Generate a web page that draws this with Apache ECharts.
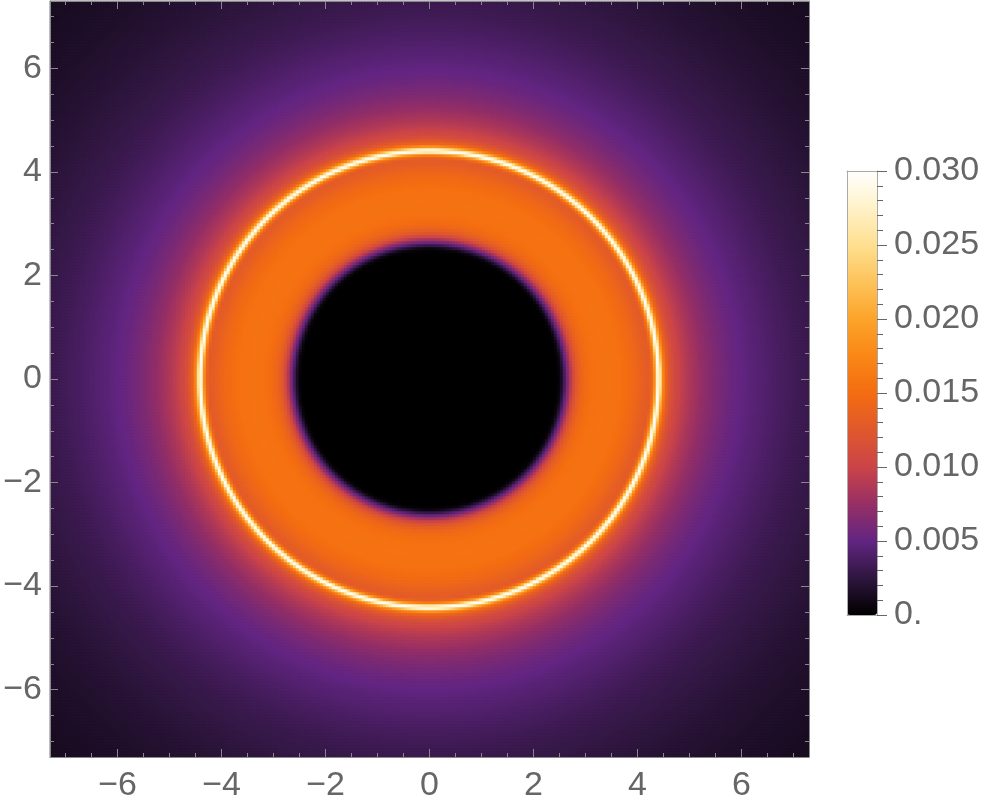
<!DOCTYPE html>
<html>
<head>
<meta charset="utf-8">
<script src="https://cdn.jsdelivr.net/npm/echarts@6/dist/echarts.min.js"></script>
<style>
  html, body { margin: 0; background: #fff; }
  #main { width: 997px; height: 812px; }
</style>
</head>
<body>
<div id="main"></div>
<script>
// radial brightness profile (radius in plot units -> value)
const radius = [0, 2.45, 2.52, 2.58, 2.64, 2.70, 2.76, 2.84, 2.95, 3.10,
  3.40, 3.70, 3.95, 4.15, 4.25, 4.31, 4.35, 4.38, 4.40, 4.43,
  4.46, 4.50, 4.55, 4.63, 4.72, 4.85, 5.00, 5.25, 5.50, 5.80,
  6.20, 6.60, 7.00, 7.50, 8.00, 8.50, 9.00, 9.50, 10.0, 10.6];
const intensity = [0, 0, 0.0006, 0.0028, 0.0055, 0.0082, 0.0105, 0.0128, 0.0143, 0.0152,
  0.0156, 0.0153, 0.0144, 0.0132, 0.0128, 0.0155, 0.0205, 0.0270, 0.0300, 0.0285,
  0.0225, 0.0172, 0.0140, 0.0120, 0.0107, 0.0096, 0.0086, 0.0073, 0.0063, 0.0054,
  0.0046, 0.0040, 0.0034, 0.0029, 0.0025, 0.0021, 0.0018, 0.0016, 0.0014, 0.0012];

const majorTicks = [-6, -4, -2, 0, 2, 4, 6];
const minorTicks = [-7, -6.5, -6, -5.5, -5, -4.5, -4, -3.5, -3, -2.5, -2, -1.5, -1, -0.5,
  0, 0.5, 1, 1.5, 2, 2.5, 3, 3.5, 4, 4.5, 5, 5.5, 6, 6.5, 7];
// sunset-like colour scale, evenly spaced from 0 to 0.03
const sunset = ['#000000', '#2e163e', '#622582', '#972f64', '#cb4448', '#e0582c', '#f46d11',
  '#fa8716', '#fca42a', '#fdc35a', '#fedf90', '#fff2c8', '#ffffff'];

const xMin = -7.3, xMax = 7.3, yMin = -7.3, yMax = 7.3;
const nx = 253, ny = 252;   // 3px cells

function valueAt(r) {
  for (let k = 0; k < radius.length - 1; k++) {
    if (r < radius[k + 1]) {
      const t = (r - radius[k]) / (radius[k + 1] - radius[k]);
      return intensity[k] + t * (intensity[k + 1] - intensity[k]);
    }
  }
  return intensity[intensity.length - 1];
}

const xCats = [], yCats = [], cells = [];
for (let i = 0; i < nx; i++) xCats.push(i);
for (let j = 0; j < ny; j++) yCats.push(j);
for (let j = 0; j < ny; j++) {
  const y = yMin + (j + 0.5) * (yMax - yMin) / ny;
  for (let i = 0; i < nx; i++) {
    const x = xMin + (i + 0.5) * (xMax - xMin) / nx;
    cells.push([i, j, +valueAt(Math.sqrt(x * x + y * y)).toFixed(5)]);
  }
}

const font = 'Liberation Sans, Arial, sans-serif';
const frameColor = '#888';
function fmt(v) { return v < 0 ? '\u2212' + (-v) : '' + v; }

function frameAxis(grid, position, ticks, len, withLine, withLabel, lo, hi) {
  return {
    type: 'value', gridIndex: grid, position: position, min: lo, max: hi, z: 5,
    axisLine: { show: withLine, onZero: false, lineStyle: { color: frameColor, width: 1 } },
    axisTick: { show: true, inside: true, length: len, customValues: ticks,
      lineStyle: { color: frameColor, width: 1 } },
    axisLabel: { show: withLabel, customValues: ticks, formatter: fmt, color: '#666',
      fontSize: 34, fontFamily: font, margin: position === 'bottom' ? 12 : 8 },
    splitLine: { show: false }
  };
}
function hiddenCat(grid, cats) {
  return { type: 'category', gridIndex: grid, data: cats, show: false,
    axisLine: { show: false }, axisTick: { show: false }, axisLabel: { show: false },
    splitLine: { show: false }, splitArea: { show: false } };
}
function barEdge(position, lo, hi) {
  return { type: 'value', gridIndex: 3, position: position, min: lo, max: hi, z: 10,
    axisLine: { show: true, onZero: false, lineStyle: { color: '#aaa' } },
    axisTick: { show: false }, axisLabel: { show: false }, splitLine: { show: false } };
}
const plotBox = { left: 50, top: 1, width: 759, height: 756 };
const barBox = { left: 847, top: 171, width: 30, height: 444 };

const myChart = echarts.init(document.getElementById('main'));
const option = {
  animation: false,
  backgroundColor: '#fff',
  grid: [
    Object.assign({}, plotBox),
    Object.assign({}, plotBox),
    Object.assign({}, plotBox),
    Object.assign({}, barBox)
  ],
  xAxis: [
    hiddenCat(0, xCats),
    frameAxis(1, 'bottom', majorTicks, 8, true, true, xMin, xMax),
    frameAxis(1, 'top', majorTicks, 8, true, false, xMin, xMax),
    frameAxis(2, 'bottom', minorTicks, 4, false, false, xMin, xMax),
    frameAxis(2, 'top', minorTicks, 4, false, false, xMin, xMax),
    barEdge('bottom', 0, 1),
    barEdge('top', 0, 1)
  ],
  yAxis: [
    hiddenCat(0, yCats),
    frameAxis(1, 'left', majorTicks, 8, true, true, yMin, yMax),
    frameAxis(1, 'right', majorTicks, 8, true, false, yMin, yMax),
    frameAxis(2, 'left', minorTicks, 4, false, false, yMin, yMax),
    frameAxis(2, 'right', minorTicks, 4, false, false, yMin, yMax),
    { type: 'value', gridIndex: 3, position: 'right', min: 0, max: 0.03, interval: 0.005, z: 10,
      axisLine: { show: true, onZero: false, lineStyle: { color: '#aaa' } },
      axisTick: { show: true, inside: false, length: 10, lineStyle: { color: '#666' } },
      minorTick: { show: true, splitNumber: 5, length: 6, lineStyle: { color: '#666' } },
      axisLabel: { color: '#666', fontSize: 34, fontFamily: font, margin: 17,
        formatter: function (v) { return v === 0 ? '0.' : v.toFixed(3); } },
      splitLine: { show: false } },
    barEdge('left', 0, 0.03)
  ],
  visualMap: {
    type: 'continuous', min: 0, max: 0.03, calculable: false, seriesIndex: 0,
    left: barBox.left, top: barBox.top, itemWidth: barBox.width, itemHeight: barBox.height,
    padding: 0, text: null, hoverLink: false,
    inRange: { color: sunset }
  },
  series: [{
    type: 'heatmap', xAxisIndex: 0, yAxisIndex: 0, data: cells,
    progressive: 0, emphasis: { disabled: true }, itemStyle: { borderWidth: 0 }
  }]
};
myChart.setOption(option, true);
</script>
</body>
</html>
